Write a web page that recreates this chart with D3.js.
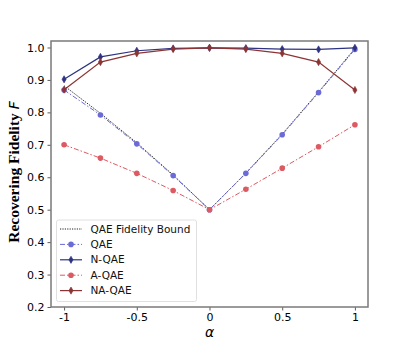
<!DOCTYPE html>
<html>
<head>
<meta charset="utf-8">
<script src="https://cdn.jsdelivr.net/npm/d3@7"></script>
<style>
body { margin: 0; background: #fff; }
svg { display: block; }
</style>
</head>
<body>
<div id="svg"></div>
<script>
// data
var alphas = [-1, -0.75, -0.5, -0.25, 0, 0.25, 0.5, 0.75, 1];
var boundVals = [0.882, 0.797, 0.706, 0.607, 0.5, 0.613, 0.733, 0.863, 0.997];
var qaeVals = [0.869, 0.792, 0.703, 0.605, 0.5, 0.612, 0.731, 0.861, 0.994];
var nqaeVals = [0.902, 0.971, 0.990, 0.997, 0.999, 0.998, 0.995, 0.994, 0.999];
var aqaeVals = [0.700, 0.659, 0.612, 0.559, 0.5, 0.563, 0.628, 0.694, 0.762];
var naqaeVals = [0.870, 0.955, 0.982, 0.995, 0.999, 0.995, 0.982, 0.955, 0.869];
var xTicks = [-1, -0.5, 0, 0.5, 1];
var xTickLabels = ["-1", "-0.5", "0", "0.5", "1"];
var yTicks = [0.2, 0.3, 0.4, 0.5, 0.6, 0.7, 0.8, 0.9, 1.0];
var seriesNames = ["QAE Fidelity Bound", "QAE", "N-QAE", "A-QAE", "NA-QAE"];

var svgWidth = 409, svgHeight = 345;
var plotLeft = 51, plotRight = 368, plotTop = 41, plotBottom = 307;

var series = [
    {name: seriesNames[0], vals: boundVals, colour: "#222", dash: "1.2,1.2", width: 1, marker: "none"},
    {name: seriesNames[1], vals: qaeVals, colour: "#6a6ad8", dash: "5,2,1.5,2", width: 1, marker: "circle"},
    {name: seriesNames[2], vals: nqaeVals, colour: "#2d3282", dash: null, width: 1.2, marker: "diamond"},
    {name: seriesNames[3], vals: aqaeVals, colour: "#dc5a62", dash: "5,2,1.5,2", width: 1, marker: "circle"},
    {name: seriesNames[4], vals: naqaeVals, colour: "#8c3434", dash: null, width: 1.2, marker: "diamond"}
];

var svg = d3.select("#svg").append("svg")
    .attr("width", svgWidth).attr("height", svgHeight);

var x = d3.scaleLinear().domain([-1.09, 1.09]).range([plotLeft, plotRight]);
var y = d3.scaleLinear().domain([0.2, 1.02]).range([plotBottom, plotTop]);

//axes
var xAxis = svg.append("g")
    .attr("transform", "translate(0," + plotBottom + ")")
    .call(d3.axisBottom(x).tickValues(xTicks).tickSize(3.5).tickPadding(2.5)
        .tickFormat(function(d, i) { return xTickLabels[i]; }));
var yAxis = svg.append("g")
    .attr("transform", "translate(" + plotLeft + ",0)")
    .call(d3.axisLeft(y).tickValues(yTicks).tickSize(3.5).tickPadding(3)
        .tickFormat(d3.format(".1f")));
[xAxis, yAxis].forEach(function(a) {
    a.select(".domain").remove();
    a.selectAll("line").attr("stroke", "#333").attr("stroke-width", 0.8);
    a.selectAll("text")
        .attr("font-family", "DejaVu Sans")
        .attr("font-size", 11)
        .attr("fill", "#000");
});

//plot lines and markers
var line = d3.line()
    .x(function(d, i) { return x(alphas[i]); })
    .y(function(d) { return y(d); });
var diamond = "M0,-3.6L2.1,0L0,3.6L-2.1,0Z";

series.forEach(function(s) {
    var g = svg.append("g");
    g.append("path")
        .datum(s.vals)
        .attr("d", line)
        .attr("fill", "none")
        .attr("stroke", s.colour)
        .attr("stroke-width", s.width)
        .attr("stroke-dasharray", s.dash);
    if (s.marker === "circle") {
        g.selectAll("circle").data(s.vals).enter().append("circle")
            .attr("cx", function(d, i) { return x(alphas[i]); })
            .attr("cy", function(d) { return y(d); })
            .attr("r", 2.8)
            .attr("fill", s.colour);
    } else if (s.marker === "diamond") {
        g.selectAll("path.m").data(s.vals).enter().append("path")
            .attr("class", "m")
            .attr("d", diamond)
            .attr("transform", function(d, i) { return "translate(" + x(alphas[i]) + "," + y(d) + ")"; })
            .attr("fill", s.colour)
            .attr("stroke", s.colour)
            .attr("stroke-width", 0.6);
    }
});

//frame
svg.append("rect")
    .attr("x", plotLeft).attr("y", plotTop)
    .attr("width", plotRight - plotLeft).attr("height", plotBottom - plotTop)
    .attr("fill", "none")
    .attr("stroke", "#7a7a7a")
    .attr("stroke-width", 1.5);

//labels
svg.append("text")
    .attr("x", x(0)).attr("y", 337)
    .attr("text-anchor", "middle")
    .attr("font-family", "DejaVu Sans")
    .attr("font-style", "italic")
    .attr("font-size", 14)
    .text("α");

var yl = svg.append("text")
    .attr("transform", "translate(19,172) rotate(-90)")
    .attr("text-anchor", "middle")
    .attr("font-family", "Liberation Serif")
    .attr("font-weight", "bold")
    .attr("font-size", 15.5);
yl.append("tspan").text("Recovering Fidelity ");
yl.append("tspan")
    .attr("font-family", "DejaVu Sans")
    .attr("font-weight", "normal")
    .attr("font-style", "italic")
    .attr("font-size", 14)
    .text("F");

//legend
var legend = svg.append("g");
legend.append("rect")
    .attr("x", 56.5).attr("y", 220)
    .attr("width", 140).attr("height", 81.5)
    .attr("rx", 2)
    .attr("fill", "#fff")
    .attr("fill-opacity", 0.8)
    .attr("stroke", "#d8d8d8")
    .attr("stroke-width", 0.8);
series.forEach(function(s, i) {
    var ly = 229 + i * 15.4;
    legend.append("line")
        .attr("x1", 60).attr("x2", 82)
        .attr("y1", ly).attr("y2", ly)
        .attr("stroke", s.colour)
        .attr("stroke-width", s.width)
        .attr("stroke-dasharray", s.dash);
    if (s.marker === "circle") {
        legend.append("circle")
            .attr("cx", 71).attr("cy", ly).attr("r", 2.8)
            .attr("fill", s.colour);
    } else if (s.marker === "diamond") {
        legend.append("path")
            .attr("d", diamond)
            .attr("transform", "translate(71," + ly + ")")
            .attr("fill", s.colour)
            .attr("stroke", s.colour)
            .attr("stroke-width", 0.6);
    }
    legend.append("text")
        .attr("x", 90.5).attr("y", ly)
        .attr("dy", "0.35em")
        .attr("font-family", "DejaVu Sans")
        .attr("font-size", 10.5)
        .attr("fill", "#111")
        .text(s.name);
});
</script>
</body>
</html>
